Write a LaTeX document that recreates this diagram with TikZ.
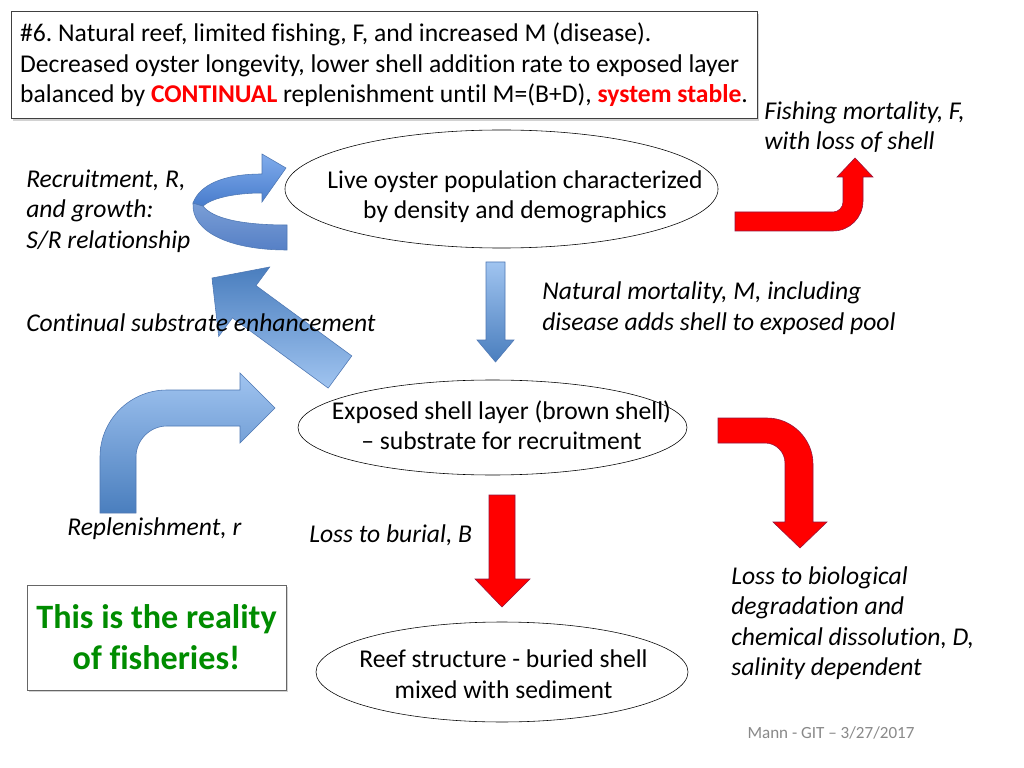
\documentclass[tikz,border=0pt]{standalone}
\usepackage{fontspec}
\setmainfont{Carlito}[Ligatures={TeX,NoCommon,NoContextual}, RawFeature={-liga;-clig;-calt;-dlig}]
\usetikzlibrary{shapes.geometric,shadows}
\definecolor{bluelt}{RGB}{160,196,240}
\definecolor{bluedk}{RGB}{74,126,190}
\definecolor{blueln}{RGB}{79,120,180}
\definecolor{redln}{RGB}{150,20,60}
\definecolor{fishgreen}{RGB}{0,140,0}
\definecolor{footgray}{RGB}{137,137,137}
\frenchspacing
\begin{document}
\begin{tikzpicture}[x=0.703125pt,y=-0.703125pt]
    \tikzstyle{oval} = [ellipse, draw, thin, fill=white, inner sep=0pt]
    \tikzstyle{body} = [inner sep=0pt, align=center, font=\fontsize{18}{21.45}\selectfont]
    \tikzstyle{note} = [inner sep=0pt, anchor=west, align=left, font=\fontsize{18}{21.45}\selectfont\itshape]
    \tikzstyle{bluearrow} = [draw=blueln, line width=0.4pt]
    \tikzstyle{redarrow} = [draw=redln, line width=0.4pt, fill=red]
    \tikzstyle{slide} = [draw=black!75, fill=white, drop shadow={shadow xshift=1.5pt,shadow yshift=-1.5pt,opacity=0.35}]
        \useasboundingbox[fill=white] (0,0) rectangle (1024,768);
        % title
        \node[slide, anchor=west, align=left, inner xsep=6.3pt, minimum height=75.2pt,
              font=\fontsize{18}{21.45}\selectfont] (title) at (11,65)
            {\#6. Natural reef, limited fishing, F, and increased M (disease).\\
             Decreased oyster longevity, lower shell addition rate to exposed layer\\
             balanced by \textcolor{red}{\textbf{CONTINUAL}} replenishment until M=(B+D), \textcolor{red}{\textbf{system stable}}.};
        % boxes
        \node[oval, minimum width=304.5pt, minimum height=83pt] (live) at (501.5,189) {};
        \node[body] (livetext) at (515,197) {Live oyster population characterized\\by density and demographics};
        \node[oval, minimum width=273.5pt, minimum height=66.8pt] (exposed) at (492.5,427.5) {};
        \node[body] (exposedtext) at (501.5,425) {Exposed shell layer (brown shell)\\– substrate for recruitment};
        \node[oval, minimum width=261.6pt, minimum height=70.3pt] (reef) at (502,672) {};
        \node[body] (reeftext) at (503.5,674) {Reef structure - buried shell\\mixed with sediment};
        \node[slide, draw=black!60, minimum width=182.1pt, minimum height=73.8pt, align=center,
              font=\fontsize{24}{28.8}\selectfont\bfseries, text=fishgreen] (reality) at (156.5,637.5)
            {This is the reality\\of fisheries!};
        %%% arrows
        % recruitment loop
        \path[bluearrow, top color={rgb,255:red,122;green,158;blue,214}, bottom color={rgb,255:red,86;green,128;blue,198}]
            (193,203) .. controls (191,232) and (230,250) .. (287,250) -- (287,225)
            .. controls (240,225) and (212,218) .. (203,206) -- cycle;
        \path[bluearrow, top color={rgb,255:red,128;green,172;blue,236}, bottom color={rgb,255:red,72;green,124;blue,204}]
            (193,203) .. controls (200,184) and (225,174) .. (262,174) -- (262,154) -- (286,168)
            -- (262,202) -- (262,193) .. controls (235,193) and (212,198) .. (203,206) -- cycle;
        % substrate enhancement
        \path[bluearrow, top color=bluedk, bottom color=bluelt]
            (212,278) -- (269.7,267) -- (256,285.6) -- (351.8,355.9) -- (328.2,388.1)
            -- (232.4,317.8) -- (218.7,336.4) -- cycle;
        % replenishment
        \path[bluearrow, top color=bluelt, bottom color=bluedk]
            (100,513) -- (100,457) .. controls (100,420) and (130,390) .. (167,390) -- (240,390)
            -- (240,373) -- (275,408) -- (240,443) -- (240,426) -- (167,426)
            .. controls (150,426) and (136,440) .. (136,457) -- (136,513) -- cycle;
        % natural mortality
        \path[bluearrow, top color=bluelt, bottom color=bluedk]
            (486,262) -- (505,262) -- (505,340) -- (514,340) -- (495.5,362) -- (477,340) -- (486,340) -- cycle;
        % fishing
        \path[redarrow]
            (735,212) -- (833,212) .. controls (838.5,212) and (843,207.5) .. (843,202) -- (843,177)
            -- (837,177) -- (855,158) -- (873,177) -- (863,177) -- (863,201)
            .. controls (863,217.5) and (849.5,231) .. (833,231) -- (735,231) -- cycle;
        % burial
        \path[redarrow]
            (489,495) -- (515,495) -- (515,579) -- (530,579) -- (502,607) -- (475,579) -- (489,579) -- cycle;
        % dissolution
        \path[redarrow]
            (718,418) -- (767,418) .. controls (792,418) and (813,439) .. (813,464) -- (813,522)
            -- (827,522) -- (800,548) -- (773,522) -- (785,522) -- (785,463)
            .. controls (785,452) and (776,443) .. (765,443) -- (718,443) -- cycle;
        %%% labels
        \node[note] (fishing) at (764,127) {Fishing mortality, F,\\with loss of shell};
        \node[note] (recruit) at (26,211) {Recruitment, R,\\and growth:\\S/R relationship};
        \node[note] (natural) at (542,308) {Natural mortality, M, including\\disease adds shell to exposed pool};
        \node[note] (enhance) at (26,323) {Continual substrate enhancement};
        \node[note] (replen) at (67,529) {Replenishment, r};
        \node[note] (burial) at (309,535) {Loss to burial, B};
        \node[note] (dissolve) at (731,623) {Loss to biological\\degradation and\\chemical dissolution, D,\\salinity dependent};
        \node[inner sep=0pt, font=\fontsize{12}{14}\selectfont, text=footgray] (footer) at (831,733) {Mann - GIT – 3/27/2017};
    \end{tikzpicture}
\end{document}
